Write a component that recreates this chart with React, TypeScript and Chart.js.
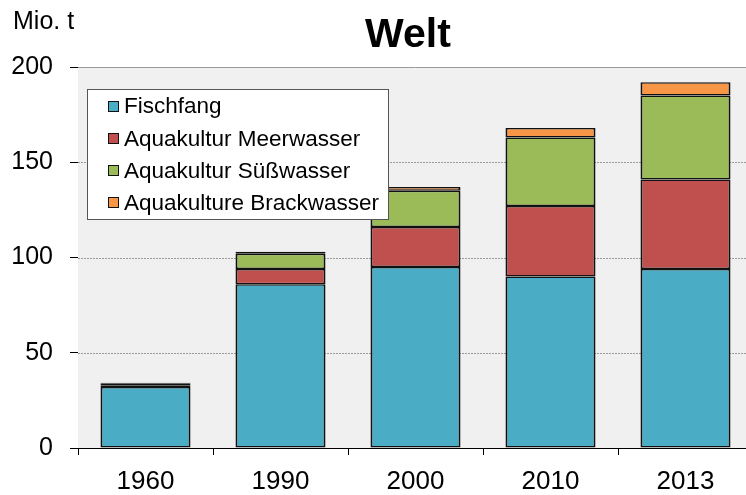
import React, { useEffect, useRef } from "react";
import { Chart, registerables } from "chart.js";

Chart.register(...registerables);

const categories = ["1960", "1990", "2000", "2010", "2013"];
const fischfang = [32, 86, 95, 90, 94];
const meerwasser = [1, 8, 21, 37, 47];
const suesswasser = [1, 8, 19, 36, 44];
const brackwasser = [0.3, 1, 2, 5, 7];
const seriesNames = ["Fischfang", "Aquakultur Meerwasser", "Aquakultur Süßwasser", "Aquakulture Brackwasser"];
const seriesColors = ["#4bacc6", "#c0504d", "#9bbb59", "#f79646"];
const yTicks = [0, 50, 100, 150, 200];

const FONT = "'Liberation Sans', Arial, sans-serif";

const bgPlugin = {
  id: "bgPlugin",
  beforeDatasetsDraw(chart: any) {
    const { ctx, chartArea } = chart;
    const y = chart.scales.y;
    ctx.save();
    ctx.fillStyle = "#f0f0f0";
    ctx.fillRect(chartArea.left, chartArea.top, chartArea.right - chartArea.left, chartArea.bottom - chartArea.top);
    ctx.strokeStyle = "#9a9a9a";
    ctx.lineWidth = 1;
    yTicks.forEach((v) => {
      if (v === 0) return;
      const py = Math.round(y.getPixelForValue(v)) + 0.5;
      ctx.setLineDash(v === 200 ? [] : [2, 1]);
      ctx.beginPath();
      ctx.moveTo(chartArea.left, py);
      ctx.lineTo(chartArea.right, py);
      ctx.stroke();
    });
    ctx.restore();
  },
  afterDraw(chart: any) {
    const { ctx } = chart;
    ctx.save();
    ctx.fillStyle = "#000";
    ctx.font = `bold 41px ${FONT}`;
    ctx.textAlign = "center";
    ctx.textBaseline = "middle";
    ctx.fillText("Welt", 408, 36);
    ctx.font = `25px ${FONT}`;
    ctx.textAlign = "left";
    ctx.fillText("Mio. t", 13, 22);
    // legend
    const lx = 87, ly = 89, lw = 301, lh = 130;
    ctx.fillStyle = "#ffffff";
    ctx.fillRect(lx, ly, lw, lh);
    ctx.strokeStyle = "#555";
    ctx.lineWidth = 1;
    ctx.strokeRect(lx + 0.5, ly + 0.5, lw, lh);
    ctx.font = `22.5px ${FONT}`;
    ctx.textBaseline = "middle";
    seriesNames.forEach((name, i) => {
      const cy = 106 + i * 32.3;
      const sy = Math.round(cy - 5.5);
      ctx.fillStyle = seriesColors[i];
      ctx.fillRect(108, sy, 11, 11);
      ctx.strokeStyle = "#111";
      ctx.strokeRect(108.5, sy + 0.5, 10, 10);
      ctx.fillStyle = "#000";
      ctx.fillText(name, 124, cy + 1);
    });
    ctx.restore();
  },
};

export default function App() {
  const ref = useRef<HTMLCanvasElement>(null);
  useEffect(() => {
    if (!ref.current) return;
    const data = [fischfang, meerwasser, suesswasser, brackwasser];
    const chart = new Chart(ref.current, {
      type: "bar",
      data: {
        labels: categories,
        datasets: data.map((d, i) => ({
          label: seriesNames[i],
          data: d,
          backgroundColor: seriesColors[i],
          borderColor: "#111",
          borderWidth: { top: 1.5, bottom: 1.5, left: 2, right: 2 },
          borderSkipped: false,
          barPercentage: 0.667,
          categoryPercentage: 1,
        })),
      },
      options: {
        animation: false,
        responsive: false,
        devicePixelRatio: 1,
        layout: { padding: { left: 11, top: 67, right: 3, bottom: 0 } },
        plugins: { legend: { display: false }, title: { display: false }, tooltip: { enabled: false } },
        scales: {
          x: {
            stacked: true,
            offset: true,
            afterFit: (s: any) => {
              s.height = 47;
            },
            grid: { offset: true, drawOnChartArea: false, drawTicks: true, tickLength: 7, color: "#000", lineWidth: 1 },
            border: { display: true, color: "#000", width: 1 },
            ticks: { font: { family: FONT, size: 26 }, color: "#000", padding: 11 },
          },
          y: {
            stacked: true,
            min: 0,
            max: 200,
            afterFit: (s: any) => {
              s.width = 67;
            },
            afterBuildTicks: (s: any) => {
              s.ticks = yTicks.map((v) => ({ value: v }));
            },
            grid: { drawOnChartArea: false, drawTicks: true, tickLength: 8, color: "#000", lineWidth: 1 },
            border: { display: true, color: "#000", width: 1 },
            ticks: { font: { family: FONT, size: 25 }, color: "#000", padding: 17 },
          },
        },
      },
      plugins: [bgPlugin],
    });
    return () => chart.destroy();
  }, []);
  return (
    <div style={{ position: "absolute", left: 0, top: 0, width: 746, height: 495, overflow: "hidden", background: "#fff" }}>
      <canvas ref={ref} width={756} height={495} style={{ width: 756, height: 495, display: "block" }} />
    </div>
  );
}
